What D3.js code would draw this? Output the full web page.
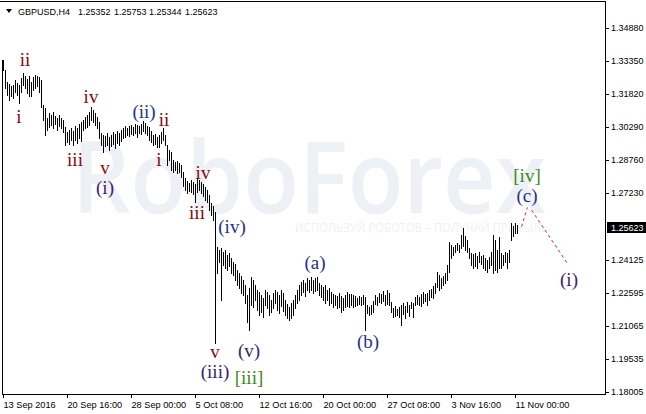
<!DOCTYPE html>
<html><head><meta charset="utf-8">
<script src="https://cdn.jsdelivr.net/npm/d3@7"></script>
<style>html,body{margin:0;padding:0;background:#fff;}svg{display:block;}</style>
</head><body>
<svg id="chart" width="646" height="414"></svg>
<script>
const headerParts = ["GBPUSD,H4", "1.25352", "1.25753", "1.25344", "1.25623"];
const headerX = [18, 78, 114, 149, 185];
const lastPrice = 1.25623;
const priceTicks = [1.34880, 1.33350, 1.31820, 1.30290, 1.28760, 1.27230, 1.24125, 1.22595, 1.21065, 1.19535, 1.18005];
const timeTickIndex = [0, 32, 64, 96, 128, 160, 192, 224, 256];
const timeTickLabels = ["13 Sep 2016", "20 Sep 16:00", "28 Sep 00:00", "5 Oct 08:00", "12 Oct 16:00", "20 Oct 00:00", "27 Oct 08:00", "3 Nov 16:00", "11 Nov 00:00"];

const highs = [
1.3338,1.3291,1.3236,1.3227,1.3217,1.3222,1.3245,1.3231,1.3222,1.3254,
1.3278,1.3264,1.3250,1.3264,1.3236,1.3259,1.3268,1.3264,1.3259,1.3245,
1.3129,1.3115,1.3069,1.3092,1.3083,1.3097,1.3078,1.3069,1.3083,1.3069,
1.3060,1.3027,1.3004,1.3013,1.3023,1.3009,1.3032,1.3023,1.3041,1.3050,
1.3060,1.3074,1.3083,1.3097,1.3120,1.3106,1.3092,1.3074,1.3050,1.2999,
1.2990,1.2985,1.2999,1.2981,1.2990,1.3004,1.2995,1.3009,1.2999,1.3013,
1.3023,1.3032,1.3023,1.3032,1.3036,1.3027,1.3041,1.3036,1.3032,1.3041,
1.3055,1.3046,1.3032,1.3027,1.3009,1.2990,1.2995,1.2981,1.2990,1.3004,
1.3023,1.2990,1.2944,1.2921,1.2911,1.2874,1.2865,1.2870,1.2860,1.2851,
1.2819,1.2791,1.2777,1.2768,1.2781,1.2772,1.2763,1.2791,1.2781,1.2772,
1.2763,1.2749,1.2735,1.2712,1.2675,1.2661,1.2633,1.2471,1.2457,1.2466,
1.2448,1.2457,1.2434,1.2443,1.2420,1.2401,1.2392,1.2364,1.2350,1.2336,
1.2318,1.2295,1.2248,1.2281,1.2332,1.2318,1.2295,1.2272,1.2262,1.2248,
1.2234,1.2272,1.2262,1.2248,1.2225,1.2258,1.2272,1.2262,1.2248,1.2272,
1.2258,1.2225,1.2207,1.2193,1.2211,1.2225,1.2248,1.2272,1.2295,1.2309,
1.2318,1.2304,1.2327,1.2318,1.2332,1.2318,1.2327,1.2332,1.2304,1.2295,
1.2286,1.2295,1.2272,1.2281,1.2262,1.2253,1.2248,1.2244,1.2258,1.2244,
1.2234,1.2248,1.2262,1.2253,1.2253,1.2248,1.2244,1.2234,1.2244,1.2239,
1.2248,1.2239,1.2202,1.2193,1.2202,1.2221,1.2248,1.2239,1.2258,1.2253,
1.2267,1.2248,1.2272,1.2258,1.2216,1.2188,1.2197,1.2184,1.2193,1.2202,
1.2211,1.2197,1.2216,1.2202,1.2216,1.2211,1.2239,1.2248,1.2239,1.2253,
1.2262,1.2253,1.2258,1.2272,1.2276,1.2290,1.2304,1.2355,1.2341,1.2327,
1.2336,1.2350,1.2387,1.2494,1.2480,1.2471,1.2480,1.2490,1.2480,1.2527,
1.2559,1.2522,1.2504,1.2466,1.2443,1.2439,1.2443,1.2429,1.2448,1.2429,
1.2434,1.2420,1.2411,1.2425,1.2448,1.2527,1.2504,1.2457,1.2517,1.2443,
1.2434,1.2448,1.2443,1.2457,1.2582,1.2568,1.2582,1.25753
];
const lows = [
1.3291,1.3208,1.3176,1.3152,1.3171,1.3162,1.3189,1.3176,1.3138,1.3189,
1.3222,1.3208,1.3185,1.3171,1.3171,1.3199,1.3208,1.3217,1.3189,1.3120,
1.3060,1.2990,1.3013,1.3027,1.3036,1.3023,1.3041,1.3013,1.3032,1.3023,
1.3004,1.2944,1.2958,1.2948,1.2967,1.2944,1.2967,1.2953,1.2976,1.2962,
1.3013,1.3023,1.3027,1.3036,1.3060,1.3050,1.3036,1.3023,1.2976,1.2944,
1.2911,1.2939,1.2944,1.2921,1.2939,1.2948,1.2930,1.2953,1.2944,1.2962,
1.2976,1.2981,1.2990,1.2985,1.2995,1.2990,1.2999,1.2981,1.2999,1.2995,
1.3009,1.2999,1.2990,1.2967,1.2958,1.2944,1.2948,1.2935,1.2935,1.2953,
1.2967,1.2944,1.2851,1.2874,1.2828,1.2819,1.2828,1.2814,1.2819,1.2795,
1.2754,1.2735,1.2721,1.2731,1.2726,1.2717,1.2680,1.2726,1.2735,1.2721,
1.2707,1.2689,1.2680,1.2642,1.2619,1.2596,1.2026,1.2350,1.2401,1.2225,
1.2387,1.2374,1.2364,1.2383,1.2350,1.2341,1.2318,1.2295,1.2281,1.2258,
1.2248,1.2211,1.2123,1.2086,1.2202,1.2193,1.2225,1.2179,1.2156,1.2170,
1.2147,1.2202,1.2188,1.2156,1.2170,1.2188,1.2211,1.2179,1.2165,1.2197,
1.2174,1.2156,1.2142,1.2132,1.2142,1.2156,1.2188,1.2211,1.2225,1.2248,
1.2262,1.2244,1.2272,1.2262,1.2272,1.2258,1.2267,1.2272,1.2248,1.2239,
1.2225,1.2211,1.2225,1.2202,1.2211,1.2193,1.2202,1.2188,1.2193,1.2170,
1.2179,1.2193,1.2197,1.2193,1.2202,1.2193,1.2197,1.2202,1.2207,1.2202,
1.2207,1.2086,1.2165,1.2156,1.2160,1.2170,1.2207,1.2202,1.2216,1.2211,
1.2221,1.2202,1.2207,1.2202,1.2170,1.2147,1.2151,1.2156,1.2147,1.2109,
1.2160,1.2142,1.2170,1.2151,1.2188,1.2147,1.2202,1.2207,1.2202,1.2197,
1.2211,1.2221,1.2202,1.2225,1.2239,1.2234,1.2258,1.2286,1.2272,1.2281,
1.2295,1.2304,1.2318,1.2355,1.2420,1.2434,1.2448,1.2457,1.2448,1.2466,
1.2476,1.2457,1.2448,1.2420,1.2387,1.2374,1.2383,1.2374,1.2401,1.2392,
1.2374,1.2364,1.2355,1.2374,1.2387,1.2350,1.2364,1.2355,1.2374,1.2374,
1.2387,1.2401,1.2374,1.2401,1.2504,1.2522,1.2536,1.25344
];

// Elliott wave labels: bar index, price, text, colour group
const waveText  = ["ii","i","iv","iii","v","(i)","(ii)","ii","i","iv","iii","(iv)","(a)","v","(iii)","(v)","[iii]","(b)","[iv]","(c)","(i)"];
const waveIndex = [11,8,44,36,51,51,70.5,80.5,78,100,97,114.5,156,106,106,123,123,182.5,262,262,283];
const wavePrice = [1.3338,1.3074,1.3166,1.2874,1.2837,1.2744,1.3097,1.3060,1.2874,1.2814,1.2629,1.2564,1.2397,1.1984,1.1891,1.1989,1.1864,1.2031,1.2800,1.2707,1.2318];
const waveGroup = ["m","m","m","m","m","p","b","m","m","m","m","b","b","m","p","p","g","b","g","b","p"];
// projected path (dashed)
const projIndex = [259.3, 262.2, 264.3, 282.2];
const projPrice = [1.2565, 1.2655, 1.2642, 1.2395];

const colors = {m:"#8a0a0a", b:"#27308f", p:"#3a2270", g:"#3b8a1c"};

const svg = d3.select("#chart");
const x = d3.scaleLinear().domain([0, 301]).range([3, 605]);
const y = d3.scaleLinear().domain([1.18005, 1.34880]).range([391.7, 27.7]);

// watermark
svg.append("text").attr("x", 72).attr("y", 213)
  .attr("font-family", "'Open Sans', 'Liberation Sans', sans-serif").attr("font-size", 100).attr("font-weight", 600)
  .attr("textLength", 474).attr("lengthAdjust", "spacingAndGlyphs")
  .attr("fill", "#edf0f4").text("RoboForex");
svg.append("text").attr("x", 295).attr("y", 232)
  .attr("font-family", "'Open Sans', 'Liberation Sans', sans-serif").attr("font-size", 12)
  .attr("textLength", 253).attr("lengthAdjust", "spacingAndGlyphs")
  .attr("fill", "#eef1f4").text("ИСПОЛЬЗУЙ РОБОТОВ – ПОЛУЧАЙ ПРИБЫЛЬ");

// frame
const frame = svg.append("g").attr("stroke", "#000").attr("shape-rendering", "crispEdges");
frame.append("line").attr("x1", 0).attr("x2", 605.5).attr("y1", 1.5).attr("y2", 1.5);
frame.append("line").attr("x1", 605.5).attr("x2", 605.5).attr("y1", 1.5).attr("y2", 394.5);
frame.append("line").attr("x1", 2.5).attr("x2", 605.5).attr("y1", 394.5).attr("y2", 394.5);
frame.append("line").attr("x1", 2.5).attr("x2", 2.5).attr("y1", y(highs[0])).attr("y2", 394.5);

// bars
svg.append("g").attr("stroke", "#000").attr("shape-rendering", "crispEdges")
  .selectAll("line").data(d3.range(highs.length)).join("line")
  .attr("x1", i => Math.round(x(i)) + 0.5).attr("x2", i => Math.round(x(i)) + 0.5)
  .attr("y1", i => Math.round(y(highs[i]))).attr("y2", i => Math.round(y(lows[i])) + 1);

// projection dashed
const line = d3.line().x(d => x(d[0])).y(d => y(d[1]));
[[0,1],[2,3]].forEach(([a,b]) => {
  svg.append("path").attr("d", line([[projIndex[a], projPrice[a]], [projIndex[b], projPrice[b]]]))
    .attr("stroke", "#d8204a").attr("stroke-width", 1).attr("stroke-dasharray", "3,3").attr("fill", "none");
});

// wave labels
svg.append("g").selectAll("text").data(waveText).join("text")
  .attr("x", (d, i) => x(waveIndex[i])).attr("y", (d, i) => y(wavePrice[i]))
  .attr("dy", "0.33em").attr("text-anchor", "middle")
  .attr("font-family", "'Liberation Serif', 'Times New Roman', serif").attr("font-size", 19)
  .attr("fill", (d, i) => colors[waveGroup[i]]).text(d => d);

// price axis
const yAxis = svg.append("g").attr("font-family", "'Liberation Sans', Arial, sans-serif").attr("font-size", 9);
yAxis.selectAll("line").data(priceTicks).join("line")
  .attr("x1", 605).attr("x2", 609).attr("y1", d => Math.round(y(d)) + 0.5).attr("y2", d => Math.round(y(d)) + 0.5)
  .attr("stroke", "#000").attr("shape-rendering", "crispEdges");
yAxis.selectAll("text").data(priceTicks).join("text")
  .attr("x", 611).attr("y", d => y(d)).attr("dy", "0.35em").attr("fill", "#000")
  .text(d => d.toFixed(5));

// current price box
svg.append("rect").attr("x", 607).attr("y", Math.round(y(lastPrice)) - 5).attr("width", 39).attr("height", 11).attr("fill", "#000");
svg.append("text").attr("x", 611).attr("y", y(lastPrice)).attr("dy", "0.35em")
  .attr("font-family", "'Liberation Sans', Arial, sans-serif").attr("font-size", 9).attr("fill", "#fff")
  .text(lastPrice.toFixed(5));

// time axis
const xAxis = svg.append("g").attr("font-family", "'Liberation Sans', Arial, sans-serif").attr("font-size", 9.2);
xAxis.selectAll("line").data(timeTickIndex).join("line")
  .attr("x1", d => Math.round(x(d)) + 0.5).attr("x2", d => Math.round(x(d)) + 0.5).attr("y1", 394).attr("y2", 398)
  .attr("stroke", "#000").attr("shape-rendering", "crispEdges");
xAxis.selectAll("text").data(timeTickLabels).join("text")
  .attr("x", (d, i) => x(timeTickIndex[i]) + 0.5).attr("y", 407.5).attr("fill", "#000").text(d => d);

// header
svg.append("path").attr("d", "M6,9 L12,9 L9,13 Z").attr("fill", "#000");
svg.append("g").attr("font-family", "'Liberation Sans', Arial, sans-serif").attr("font-size", 9).attr("fill", "#000")
  .selectAll("text").data(headerParts).join("text")
  .attr("x", (d, i) => headerX[i]).attr("y", 14.5).text(d => d);
</script>
</body></html>
